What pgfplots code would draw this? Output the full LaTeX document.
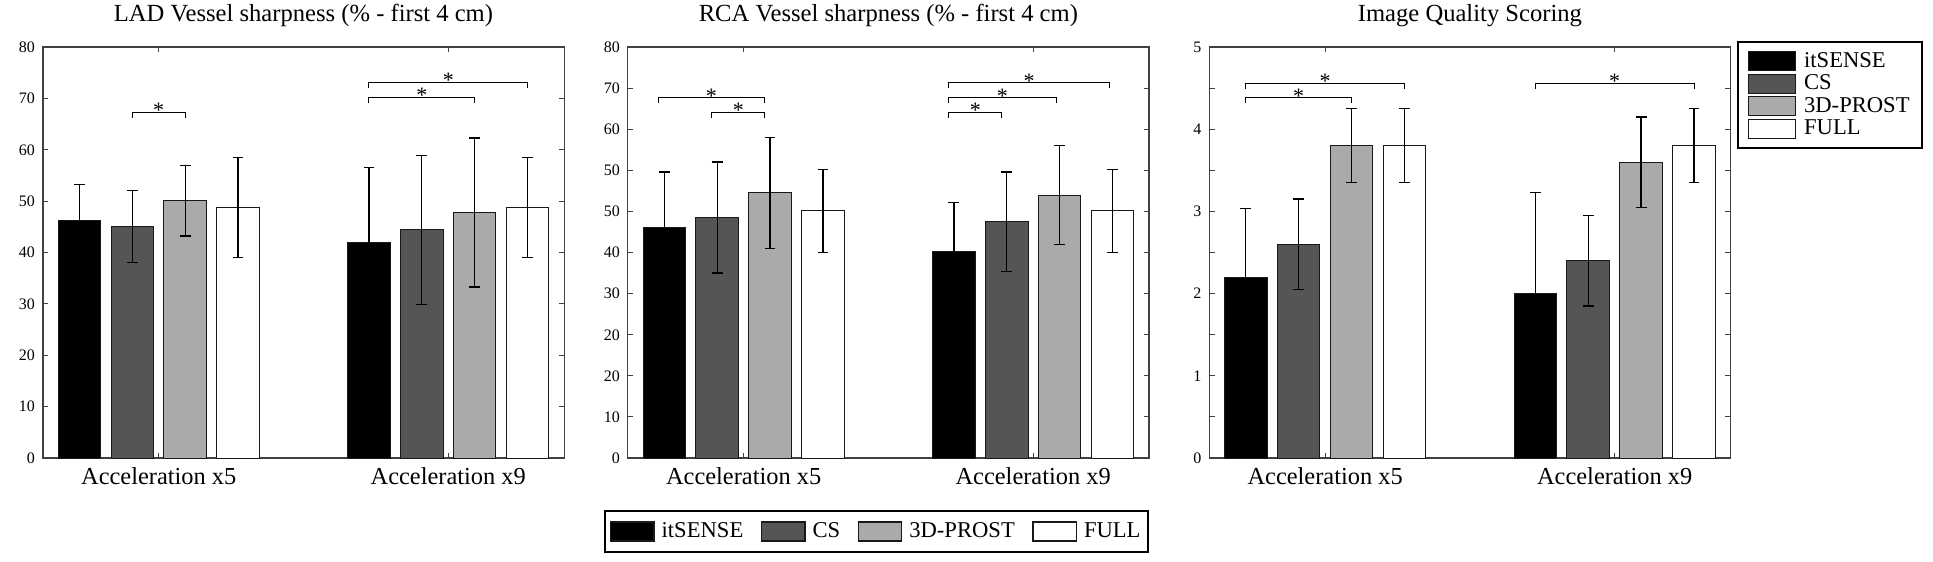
\documentclass[border=0pt]{standalone}
\usepackage{fontspec}
\setmainfont{Liberation Serif}
\usepackage{pgfplots}
\pgfplotsset{compat=1.18}
\definecolor{csg}{HTML}{555555}
\definecolor{prg}{HTML}{AAAAAA}
\def\legw{23.5pt}
\pgfplotsset{
  common/.style={
    scale only axis, width=260.6pt, height=205.55pt, anchor=south west,
    xmin=0.6, xmax=2.4, ymin=0,
    xtick={1,2}, xticklabels={Acceleration x5,Acceleration x9},
    tick align=inside, major tick length=2.6pt,
    axis line style={black!75, line width=0.6pt},
    tick style={black!75, line width=0.5pt},
    xticklabel style={font=\fontsize{12.2}{14}\selectfont, anchor=base, yshift=-13pt},
    yticklabel style={font=\fontsize{8}{9}\selectfont, inner sep=0pt, xshift=-3.8pt},
    title style={font=\fontsize{12.3}{14}\selectfont, anchor=base, yshift=7pt},
    /pgf/number format/assume math mode=true,
    clip=false,
  },
  bars/.style={ybar, bar width=0.147, bar shift=0pt, draw=black!90, line width=0.5pt, fill=#1,
    legend image code/.code={\draw[fill=#1, draw=black!90, line width=0.6pt] (0pt,-4.75pt) rectangle (\legw,4.75pt);},
    error bars/y dir=both, error bars/y explicit,
    error bars/error bar style={black, line width=0.65pt},
    error bars/error mark options={rotate=90, black, mark size=2.7pt, line width=0.65pt}},
  legstyle/.style={legend cell align=left,
    legend style={draw=black, line width=1pt, fill=white, font=\fontsize{11.3}{13}\selectfont,
      inner xsep=3pt, inner ysep=4pt, nodes={inner sep=1pt}}},
}
\newcommand{\brk}[4]{\addplot[black, line width=0.5pt, forget plot] coordinates {(#1,#4) (#1,#3) (#2,#3) (#2,#4)};}
\newcommand{\sig}[2]{\node[font=\fontsize{11}{12}\selectfont, inner sep=0pt, anchor=base, yshift=-2.6pt] at (axis cs:#1,#2) {*};}
\begin{document}
\begin{tikzpicture}
\useasboundingbox (0,0) rectangle (966.5pt,281pt);
% ---------------- LAD ----------------
\begin{axis}[common, at={(21.45pt,51.95pt)},
  title={LAD Vessel sharpness (\% - first 4 cm)},
  ymax=80, ytick={0,10,...,80}, yticklabels={0,10,20,30,40,50,60,70,80}]
\addplot[bars=black] table[x=x,y=y,y error=e]{
x y e
0.7261 46.2 7.1
1.7261 42.0 14.6
};
\addplot[bars=csg] table[x=x,y=y,y error=e]{
x y e
0.9087 45.05 7.0
1.9087 44.4 14.5
};
\addplot[bars=prg] table[x=x,y=y,y error=e]{
x y e
1.0913 50.1 6.9
2.0913 47.8 14.5
};
\addplot[bars=white] table[x=x,y=y,y error=e]{
x y e
1.2739 48.8 9.7
2.2739 48.8 9.7
};
\brk{0.9087}{1.0913}{67.3}{66.2}
\brk{1.7261}{2.0913}{70.2}{69.1}
\brk{1.7261}{2.2739}{73.1}{72.0}
\sig{1.0}{67.3}
\sig{1.9087}{70.2}
\sig{2.0}{73.1}
\end{axis}
% ---------------- RCA ----------------
\def\legw{21.7pt}
\begin{axis}[common, legstyle, at={(313.9pt,51.95pt)},
  title={RCA Vessel sharpness (\% - first 4 cm)},
  ymax=80, ytick={0,8,...,80}, yticklabels={0,10,20,20,30,40,50,50,60,70,80},
  legend columns=4,
  legend style={at={(-0.0463,-0.1262)}, anchor=north west, inner xsep=2.7pt, inner ysep=4.75pt,
    /tikz/every odd column/.append style={column sep=2.5pt},
    /tikz/every even column/.append style={column sep=7.8pt}}]
\addplot[bars=black] table[x=x,y=y,y error=e]{
x y e
0.7261 44.95 10.7
1.7261 40.2 9.6
};
\addplot[bars=csg] table[x=x,y=y,y error=e]{
x y e
0.9087 46.8 10.8
1.9087 46.0 9.7
};
\addplot[bars=prg] table[x=x,y=y,y error=e]{
x y e
1.0913 51.6 10.8
2.0913 51.2 9.7
};
\addplot[bars=white] table[x=x,y=y,y error=e]{
x y e
1.2739 48.1 8.1
2.2739 48.1 8.1
};
\brk{0.705}{1.0735}{70.1}{69.1}
\brk{0.890}{1.0735}{67.2}{66.2}
\brk{1.709}{1.891}{67.2}{66.2}
\brk{1.709}{2.080}{70.1}{69.1}
\brk{1.709}{2.263}{73.0}{72.0}
\sig{0.889}{70.1}
\sig{0.982}{67.2}
\sig{1.800}{67.2}
\sig{1.894}{70.1}
\sig{1.986}{73.0}
\legend{itSENSE,CS,3D-PROST,FULL}
\end{axis}
% ---------------- Image Quality ----------------
\def\legw{23.5pt}
\begin{axis}[common, legstyle, at={(604.65pt,51.95pt)},
  title={Image Quality Scoring},
  ymax=5, ytick={0,0.5,...,5}, yticklabels={0,,1,,2,,3,,4,,5},
  legend style={at={(1.0123,1.0141)}, anchor=north west, inner xsep=5pt, row sep=0.3pt,
    /tikz/every odd column/.append style={column sep=3pt}}]
\addplot[bars=black] table[x=x,y=y,y error=e]{
x y e
0.7261 2.20 0.84
1.7261 2.00 1.23
};
\addplot[bars=csg] table[x=x,y=y,y error=e]{
x y e
0.9087 2.60 0.55
1.9087 2.40 0.55
};
\addplot[bars=prg] table[x=x,y=y,y error=e]{
x y e
1.0913 3.80 0.45
2.0913 3.60 0.55
};
\addplot[bars=white] table[x=x,y=y,y error=e]{
x y e
1.2739 3.80 0.45
2.2739 3.80 0.45
};
\brk{0.7261}{1.0913}{4.38}{4.315}
\brk{0.7261}{1.2739}{4.56}{4.495}
\brk{1.7261}{2.2739}{4.56}{4.495}
\sig{0.9087}{4.38}
\sig{1.0}{4.56}
\sig{2.0}{4.56}
\legend{itSENSE,CS,3D-PROST,FULL}
\end{axis}
\end{tikzpicture}
\end{document}
